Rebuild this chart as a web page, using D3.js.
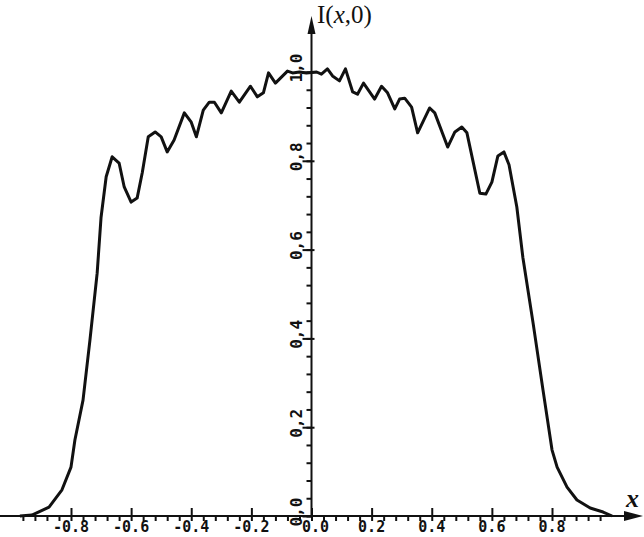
<!DOCTYPE html>
<html>
<head>
<meta charset="utf-8">
<script src="https://cdn.jsdelivr.net/npm/d3@7/dist/d3.min.js"></script>
<style>
  body { margin: 0; background: #fff; }
  svg { display: block; }
</style>
</head>
<body>
<svg id="chart" width="644" height="537"></svg>
<script>
// curve I(x,0)
const xValues = [-0.97, -0.93, -0.873, -0.83, -0.80, -0.787, -0.760, -0.737, -0.713, -0.70, -0.683, -0.663,
    -0.64, -0.623, -0.60, -0.58, -0.563, -0.543, -0.52, -0.50, -0.48, -0.457, -0.423, -0.40, -0.383,
    -0.36, -0.34, -0.323, -0.30, -0.267, -0.24, -0.203, -0.18, -0.16, -0.143, -0.12, -0.08, -0.063,
    -0.04, -0.017, 0.017, 0.033, 0.053, 0.07, 0.093, 0.113, 0.137, 0.153, 0.173, 0.21, 0.233, 0.253,
    0.277, 0.293, 0.31, 0.333, 0.353, 0.393, 0.41, 0.453, 0.477, 0.50, 0.517, 0.56, 0.58, 0.60, 0.62,
    0.64, 0.657, 0.683, 0.703, 0.737, 0.77, 0.80, 0.817, 0.85, 0.883, 0.927, 0.97, 1.0];
const yValues = [0.0, 0.002, 0.020, 0.059, 0.110, 0.171, 0.261, 0.396, 0.547, 0.673, 0.764, 0.809,
    0.795, 0.741, 0.707, 0.716, 0.773, 0.854, 0.865, 0.854, 0.820, 0.847, 0.908, 0.887, 0.854,
    0.914, 0.932, 0.932, 0.908, 0.957, 0.932, 0.968, 0.944, 0.953, 0.998, 0.975, 1.002, 0.998,
    1.0, 0.998, 1.0, 0.995, 1.007, 0.991, 0.980, 1.007, 0.955, 0.950, 0.975, 0.939, 0.968, 0.953,
    0.917, 0.939, 0.941, 0.921, 0.863, 0.919, 0.908, 0.831, 0.865, 0.876, 0.863, 0.727, 0.725, 0.752, 0.811,
    0.820, 0.791, 0.696, 0.583, 0.435, 0.284, 0.149, 0.110, 0.065, 0.036, 0.018, 0.009, 0.0];

const xTicks = [-0.8, -0.6, -0.4, -0.2, 0.0, 0.2, 0.4, 0.6, 0.8];
const xTickLabels = ["-0.8", "-0.6", "-0.4", "-0.2", "0.0", "0.2", "0.4", "0.6", "0.8"];
const yTicks = [0.0, 0.2, 0.4, 0.6, 0.8, 1.0];
const yTickLabels = ["0,0", "0,2", "0,4", "0,6", "0,8", "1,0"];

let svg = d3.select("#chart");

let x = d3.scaleLinear().domain([-0.8, 0.8]).range([71, 552]);
let y = d3.scaleLinear().domain([0, 1]).range([516, 72]);

let ink = "#111";
let labelFont = "'DejaVu Sans Mono', monospace";

// minor ticks every 0.04
let xMinor = d3.range(-24, 25).map(function (i) { return i * 0.04; });
let yMinor = d3.range(0, 26).map(function (i) { return i * 0.04; });

function cleanAxis(g) {
    g.select(".domain").remove();
    g.selectAll("line").attr("stroke", ink).attr("stroke-width", 2);
}

// x axis ticks
svg.append("g").attr("transform", "translate(0," + y(0) + ")")
    .call(d3.axisBottom(x).tickValues(xMinor).tickSize(5).tickFormat(""))
    .call(cleanAxis);
svg.append("g").attr("transform", "translate(0," + y(0) + ")")
    .call(d3.axisTop(x).tickValues(xTicks).tickSize(8).tickFormat(""))
    .call(cleanAxis);

// y axis ticks
svg.append("g").attr("transform", "translate(" + x(0) + ",0)")
    .call(d3.axisLeft(y).tickValues(yMinor).tickSize(5).tickFormat(""))
    .call(cleanAxis);
svg.append("g").attr("transform", "translate(" + x(0) + ",0)")
    .call(d3.axisLeft(y).tickValues(yTicks).tickSize(9).tickFormat(""))
    .call(cleanAxis);
svg.append("g").attr("transform", "translate(" + x(0) + ",0)")
    .call(d3.axisRight(y).tickValues(yTicks.slice(1)).tickSize(3).tickFormat(""))
    .call(cleanAxis);

// axis lines with arrows
svg.append("line").attr("x1", 0).attr("x2", 630).attr("y1", y(0)).attr("y2", y(0))
    .attr("stroke", ink).attr("stroke-width", 2);
svg.append("path").attr("d", "M643," + y(0) + "L624," + (y(0) - 5) + "L624," + (y(0) + 5) + "Z")
    .attr("fill", ink);
svg.append("line").attr("x1", x(0)).attr("x2", x(0)).attr("y1", y(0)).attr("y2", 28)
    .attr("stroke", ink).attr("stroke-width", 2);
svg.append("path").attr("d", "M" + x(0) + ",16L" + (x(0) - 4) + ",34L" + (x(0) + 4) + ",34Z")
    .attr("fill", ink);

// tick labels
svg.append("g").selectAll("text").data(xTicks).enter().append("text")
    .attr("x", function (d) { return d === 0 ? x(d) + 4 : x(d); })
    .attr("y", 532)
    .attr("text-anchor", "middle")
    .attr("font-family", labelFont)
    .attr("font-weight", "bold")
    .attr("font-size", 15)
    .attr("fill", ink)
    .text(function (d, i) { return xTickLabels[i]; });

svg.append("g").selectAll("text").data(yTicks).enter().append("text")
    .attr("transform", function (d) {
        return "translate(302," + (y(d) - 4) + ") rotate(-90)";
    })
    .attr("text-anchor", "middle")
    .attr("font-family", labelFont)
    .attr("font-weight", "bold")
    .attr("font-size", 16)
    .attr("fill", ink)
    .text(function (d, i) { return yTickLabels[i]; });

// axis titles
let title = svg.append("text").attr("x", 317).attr("y", 23)
    .attr("font-family", "'Liberation Serif', serif")
    .attr("font-size", 25)
    .attr("fill", ink);
title.append("tspan").text("I(");
title.append("tspan").attr("font-style", "italic").text("x");
title.append("tspan").text(",0)");

svg.append("text").attr("x", 626).attr("y", 507)
    .attr("font-family", "'Liberation Serif', serif")
    .attr("font-style", "italic")
    .attr("font-weight", "bold")
    .attr("font-size", 26)
    .attr("fill", ink)
    .text("x");

// the curve
let points = xValues.map(function (v, i) { return [v, yValues[i]]; });
let line = d3.line()
    .x(function (d) { return x(d[0]); })
    .y(function (d) { return y(d[1]); });

svg.append("path").datum(points)
    .attr("d", line)
    .attr("fill", "none")
    .attr("stroke", ink)
    .attr("stroke-width", 3)
    .attr("stroke-linejoin", "round");
</script>
</body>
</html>
